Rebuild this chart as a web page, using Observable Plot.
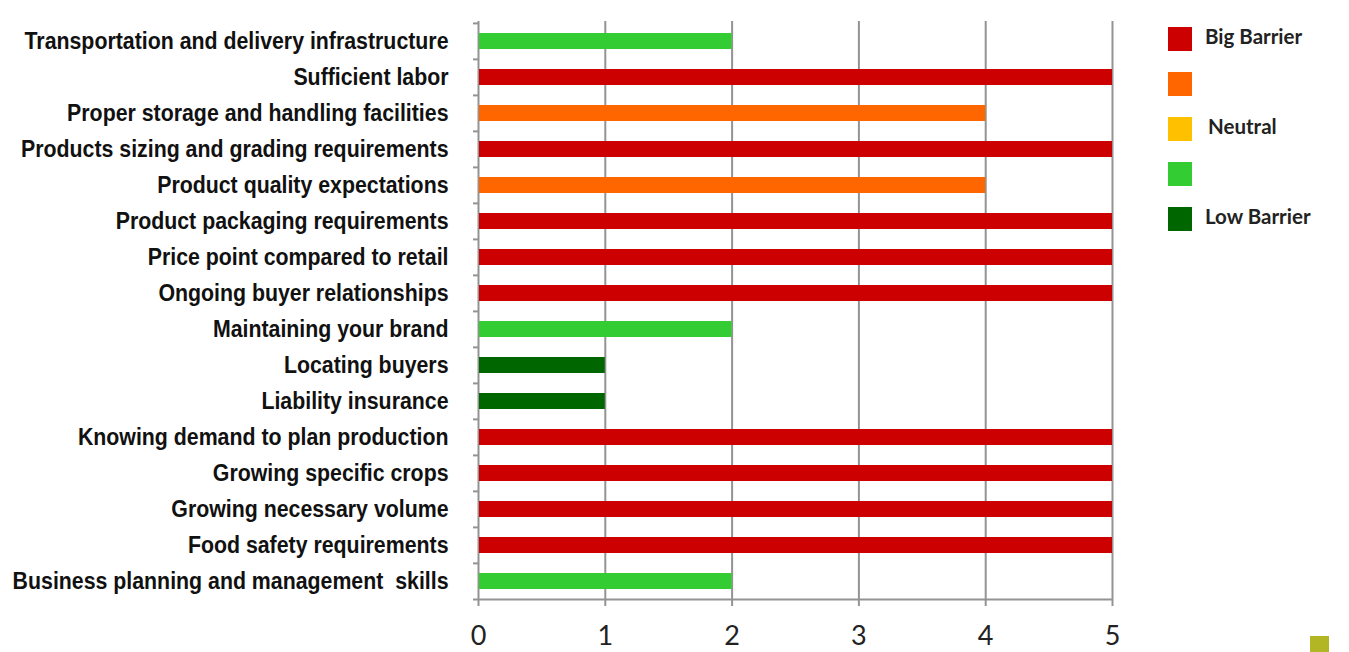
<!DOCTYPE html>
<html>
<head>
<meta charset="utf-8">
<script src="https://cdn.jsdelivr.net/npm/d3@7"></script>
<script src="https://cdn.jsdelivr.net/npm/@observablehq/plot@0.6"></script>
<style>
  html, body { margin: 0; padding: 0; background: #fff; }
  #wrap { position: relative; width: 1349px; height: 652px; overflow: hidden; }
  #legend { position: absolute; left: 1168px; top: 27px; }
  .lg { position: absolute; left: 0; width: 24px; height: 24px; }
  .lt { position: absolute; white-space: nowrap; font-family: Lato, "Open Sans", sans-serif; font-weight: bold; font-size: 20.5px; color: #222; line-height: 24px; }
  #mark { position: absolute; left: 1310px; top: 636px; width: 19px; height: 16px; background: #b3b624; }
</style>
</head>
<body>
<div id="wrap">
  <div id="chart"></div>
  <div id="legend"></div>
  <div id="mark"></div>
</div>
<script>
const categories = [
  "Transportation and delivery infrastructure",
  "Sufficient labor",
  "Proper storage and handling facilities",
  "Products sizing and grading requirements",
  "Product quality expectations",
  "Product packaging requirements",
  "Price point compared to retail",
  "Ongoing buyer relationships",
  "Maintaining your brand",
  "Locating buyers",
  "Liability insurance",
  "Knowing demand to plan production",
  "Growing specific crops",
  "Growing necessary volume",
  "Food safety requirements",
  "Business planning and management  skills"
];
const values = [2, 5, 4, 5, 4, 5, 5, 5, 2, 1, 1, 5, 5, 5, 5, 2];
const colorDomain = [1, 2, 3, 4, 5];
const colorRange = ["#006600", "#33cc33", "#ffc000", "#ff6600", "#cc0000"];
const xTicks = [0, 1, 2, 3, 4, 5];
const legendLabels = ["Big Barrier", "", "Neutral", "", "Low Barrier"];
const legendColors = ["#cc0000", "#ff6600", "#ffc000", "#33cc33", "#006600"];

const data = categories.map((c, i) => ({category: c, value: values[i]}));

const W = 1349, H = 652, mT = 21, mB = 52;
const step = (H - mT - mB) / categories.length;
const grid = "#939393";

const chart = Plot.plot({
  width: W,
  height: H,
  marginLeft: 478,
  marginRight: 237,
  marginTop: mT,
  marginBottom: mB,
  style: {background: "#fff", overflow: "visible"},
  x: {domain: [0, 5], label: null},
  y: {domain: categories, paddingInner: 0.56, paddingOuter: 0.28, label: null},
  color: {type: "ordinal", domain: colorDomain, range: colorRange},
  marks: [
    Plot.ruleX(xTicks, {stroke: grid, strokeWidth: 2}),
    Plot.barX(data, {x: "value", y: "category", fill: "value", insetLeft: 1}),
    Plot.ruleY(categories, {y: d => d, x1: 0, x2: 0, insetLeft: -5, dy: -step / 2, stroke: grid, strokeWidth: 2}),
    Plot.ruleY([categories[categories.length - 1]], {y: d => d, x1: 0, x2: 5, insetLeft: -5, dy: step / 2, stroke: grid, strokeWidth: 2}),
    Plot.axisX({ticks: xTicks, tickSize: 6, tickPadding: 19, stroke: grid, strokeWidth: 2, fontSize: 27, fontFamily: "Lato, 'Open Sans', sans-serif", fill: "#222", tickFormat: d => String(d), label: null}),
    Plot.axisY({tickSize: 0, tickPadding: 30, fontSize: 23.5, fontWeight: "bold", fontFamily: "'Liberation Sans', Arial, sans-serif", fill: "#111", label: null})
  ]
});
document.getElementById("chart").appendChild(chart);

// condense the y-axis labels to mimic a condensed bold face
const yTexts = chart.querySelectorAll('g[aria-label="y-axis tick label"] text');
if (yTexts.length) {
  const factor = 424 / yTexts[0].getComputedTextLength();
  yTexts.forEach(t => {
    const len = t.getComputedTextLength();
    t.setAttribute("textLength", (len * factor).toFixed(1));
    t.setAttribute("lengthAdjust", "spacingAndGlyphs");
  });
}

const legend = document.getElementById("legend");
legendColors.forEach((c, i) => {
  const sw = document.createElement("div");
  sw.className = "lg";
  sw.style.top = (i * 45) + "px";
  sw.style.background = c;
  legend.appendChild(sw);
  if (legendLabels[i]) {
    const t = document.createElement("div");
    t.className = "lt";
    t.style.top = (i * 45 - 3) + "px";
    t.style.left = (i === 2 ? 40 : 37) + "px";
    t.textContent = legendLabels[i];
    legend.appendChild(t);
  }
});
</script>
</body>
</html>
